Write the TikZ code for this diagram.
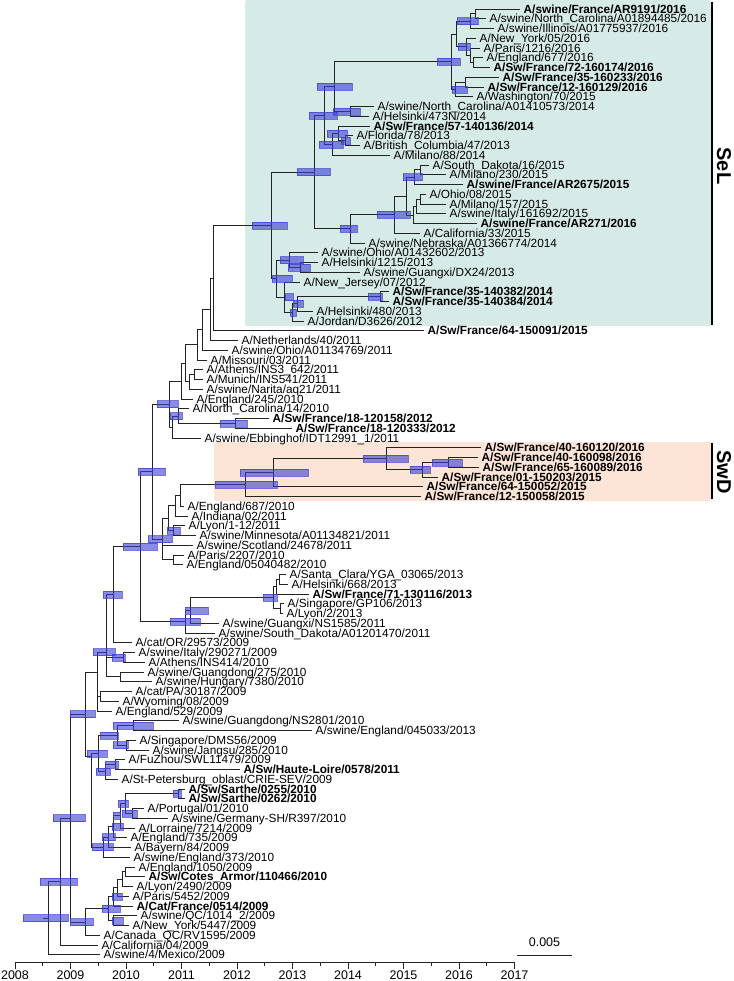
\documentclass[tikz,border=0pt]{standalone}
\usepackage{fontspec}
\setmainfont{Liberation Sans}
\definecolor{selteal}{RGB}{214,234,232}
\definecolor{swdpeach}{RGB}{252,228,214}
\definecolor{hpdblue}{RGB}{60,62,210}
\definecolor{branchgray}{RGB}{35,35,35}

\begin{document}
\begin{tikzpicture}[x=1pt,y=-1pt,
  leaf/.style={anchor=west,inner xsep=3.5pt,inner ysep=0pt,text height=8.4pt,text depth=0pt,font=\fontsize{11.8}{12}\selectfont},
  br/.style={draw=branchgray,line width=0.9pt},
  hpd/.style={fill=hpdblue,fill opacity=0.6,draw=hpdblue,draw opacity=0.7,line width=0.5pt},
  axisline/.style={draw=branchgray,line width=0.8pt},
  yr/.style={font=\fontsize{12.5}{13}\selectfont,inner sep=0pt},
  cladelab/.style={font=\fontsize{20}{20}\bfseries,rotate=-90,inner sep=0pt},
  cladebar/.style={line width=2.4pt}]
\useasboundingbox (0,0) rectangle (733,981);

% clade boxes
\fill[selteal,rounded corners=2pt] (245,0) rectangle (711,326);
\fill[swdpeach,rounded corners=2pt] (214,442) rectangle (711,501);
\draw[cladebar] (712,2) -- (712,325);
\draw[cladebar] (712,443) -- (712,499);
\node[cladelab] (sellab) at (724,166) {SeL};
\node[cladelab] (swdlab) at (724,472) {SwD};

% tips: SeL
\node[leaf] (t1) at (520,9) {\bfseries A/swine/France/AR9191/2016};
\node[leaf] (t2) at (486,18.75) {A/swine/North\_Carolina/A01894485/2016};
\node[leaf] (t3) at (494,28.5) {A/swine/Illinois/A01775937/2016};
\node[leaf] (t4) at (476,38.25) {A/New\_York/05/2016};
\node[leaf] (t5) at (480,48) {A/Paris/1216/2016};
\node[leaf] (t6) at (483,57.75) {A/England/677/2016};
\node[leaf] (t7) at (490,67.5) {\bfseries A/Sw/France/72-160174/2016};
\node[leaf] (t8) at (499,77.25) {\bfseries A/Sw/France/35-160233/2016};
\node[leaf] (t9) at (484,87) {\bfseries A/Sw/France/12-160129/2016};
\node[leaf] (t10) at (473,96.75) {A/Washington/70/2015};
\node[leaf] (t11) at (374,106.5) {A/swine/North\_Carolina/A01410573/2014};
\node[leaf] (t12) at (369,116.25) {A/Helsinki/473N/2014};
\node[leaf] (t13) at (370,126) {\bfseries A/Sw/France/57-140136/2014};
\node[leaf] (t14) at (353,135.75) {A/Florida/78/2013};
\node[leaf] (t15) at (360,145.5) {A/British\_Columbia/47/2013};
\node[leaf] (t16) at (390,155.25) {A/Milano/88/2014};
\node[leaf] (t17) at (429,165) {A/South\_Dakota/16/2015};
\node[leaf] (t18) at (446,174.75) {A/Milano/230/2015};
\node[leaf] (t19) at (463,184.5) {\bfseries A/swine/France/AR2675/2015};
\node[leaf] (t20) at (426,194.25) {A/Ohio/08/2015};
\node[leaf] (t21) at (446,204) {A/Milano/157/2015};
\node[leaf] (t22) at (446,213.75) {A/swine/Italy/161692/2015};
\node[leaf] (t23) at (477,223.5) {\bfseries A/swine/France/AR271/2016};
\node[leaf] (t24) at (420,233.25) {A/California/33/2015};
\node[leaf] (t25) at (365,243) {A/swine/Nebraska/A01366774/2014};
\node[leaf] (t26) at (318,252.75) {A/swine/Ohio/A01432602/2013};
\node[leaf] (t27) at (318,262.5) {A/Helsinki/1215/2013};
\node[leaf] (t28) at (360,272.25) {A/swine/Guangxi/DX24/2013};
\node[leaf] (t29) at (300,282) {A/New\_Jersey/07/2012};
\node[leaf] (t30) at (389,291.75) {\bfseries A/Sw/France/35-140382/2014};
\node[leaf] (t31) at (389,301.5) {\bfseries A/Sw/France/35-140384/2014};
\node[leaf] (t32) at (313,311.25) {A/Helsinki/480/2013};
\node[leaf] (t33) at (304,321) {A/Jordan/D3626/2012};
% tips: 2011-2012 backbone
\node[leaf] (t34) at (424,330.75) {\bfseries A/Sw/France/64-150091/2015};
\node[leaf] (t35) at (238,340.5) {A/Netherlands/40/2011};
\node[leaf] (t36) at (228,350.25) {A/swine/Ohio/A01134769/2011};
\node[leaf] (t37) at (207,360) {A/Missouri/03/2011};
\node[leaf] (t38) at (203,369.75) {A/Athens/INS3\_642/2011};
\node[leaf] (t39) at (203,379.5) {A/Munich/INS541/2011};
\node[leaf] (t40) at (203,389.25) {A/swine/Narita/aq21/2011};
\node[leaf] (t41) at (193,399) {A/England/245/2010};
\node[leaf] (t42) at (189,408.75) {A/North\_Carolina/14/2010};
\node[leaf] (t43) at (269,418.5) {\bfseries A/Sw/France/18-120158/2012};
\node[leaf] (t44) at (292,428.25) {\bfseries A/Sw/France/18-120333/2012};
\node[leaf] (t45) at (201,438) {A/swine/Ebbinghof/IDT12991\_1/2011};
% tips: SwD
\node[leaf] (t46) at (481,447.75) {\bfseries A/Sw/France/40-160120/2016};
\node[leaf] (t47) at (478,457.5) {\bfseries A/Sw/France/40-160098/2016};
\node[leaf] (t48) at (479,467.25) {\bfseries A/Sw/France/65-160089/2016};
\node[leaf] (t49) at (438,477) {\bfseries A/Sw/France/01-150203/2015};
\node[leaf] (t50) at (423,486.75) {\bfseries A/Sw/France/64-150052/2015};
\node[leaf] (t51) at (421,496.5) {\bfseries A/Sw/France/12-150058/2015};
\node[leaf] (t52) at (184,506.25) {A/England/687/2010};
\node[leaf] (t53) at (188,516) {A/Indiana/02/2011};
\node[leaf] (t54) at (185,525.75) {A/Lyon/1-12/2011};
\node[leaf] (t55) at (196,535.5) {A/swine/Minnesota/A01134821/2011};
\node[leaf] (t56) at (193,545.25) {A/swine/Scotland/24678/2011};
\node[leaf] (t57) at (184,555) {A/Paris/2207/2010};
\node[leaf] (t58) at (183,564.75) {A/England/05040482/2010};
\node[leaf] (t59) at (286,574.5) {A/Santa\_Clara/YGA\_03065/2013};
\node[leaf] (t60) at (288,584.25) {A/Helsinki/668/2013};
\node[leaf] (t61) at (309,594) {\bfseries A/Sw/France/71-130116/2013};
\node[leaf] (t62) at (284,603.75) {A/Singapore/GP106/2013};
\node[leaf] (t63) at (283,613.5) {A/Lyon/2/2013};
\node[leaf] (t64) at (219,623.25) {A/swine/Guangxi/NS1585/2011};
\node[leaf] (t65) at (215,633) {A/swine/South\_Dakota/A01201470/2011};
% tips: 2009-2010
\node[leaf] (t66) at (132,642.75) {A/cat/OR/29573/2009};
\node[leaf] (t67) at (135,652.5) {A/swine/Italy/290271/2009};
\node[leaf] (t68) at (145,662.25) {A/Athens/INS414/2010};
\node[leaf] (t69) at (144,672) {A/swine/Guangdong/275/2010};
\node[leaf] (t70) at (152,681.75) {A/swine/Hungary/7380/2010};
\node[leaf] (t71) at (132,691.5) {A/cat/PA/30187/2009};
\node[leaf] (t72) at (119,701.25) {A/Wyoming/08/2009};
\node[leaf] (t73) at (112,711) {A/England/529/2009};
\node[leaf] (t74) at (179,720.75) {A/swine/Guangdong/NS2801/2010};
\node[leaf] (t75) at (312,730.5) {A/swine/England/045033/2013};
\node[leaf] (t76) at (136,740.25) {A/Singapore/DMS56/2009};
\node[leaf] (t77) at (149,750) {A/swine/Jangsu/285/2010};
\node[leaf] (t78) at (125,759.75) {A/FuZhou/SWL11479/2009};
\node[leaf] (t79) at (240,769.5) {\bfseries A/Sw/Haute-Loire/0578/2011};
\node[leaf] (t80) at (118,779.25) {A/St-Petersburg\_oblast/CRIE-SEV/2009};
\node[leaf] (t81) at (185,789) {\bfseries A/Sw/Sarthe/0255/2010};
\node[leaf] (t82) at (185,798.75) {\bfseries A/Sw/Sarthe/0262/2010};
\node[leaf] (t83) at (144,808.5) {A/Portugal/01/2010};
\node[leaf] (t84) at (168,818.25) {A/swine/Germany-SH/R397/2010};
\node[leaf] (t85) at (135,828) {A/Lorraine/7214/2009};
\node[leaf] (t86) at (127,837.75) {A/England/735/2009};
\node[leaf] (t87) at (131,847.5) {A/Bayern/84/2009};
\node[leaf] (t88) at (130,857.25) {A/swine/England/373/2010};
\node[leaf] (t89) at (135,867) {A/England/1050/2009};
\node[leaf] (t90) at (145,876.75) {\bfseries A/Sw/Cotes\_Armor/110466/2010};
\node[leaf] (t91) at (133,886.5) {A/Lyon/2490/2009};
\node[leaf] (t92) at (129,896.25) {A/Paris/5452/2009};
\node[leaf] (t93) at (133,906) {\bfseries A/Cat/France/0514/2009};
\node[leaf] (t94) at (137,915.75) {A/swine/QC/1014\_2/2009};
\node[leaf] (t95) at (129,925.5) {A/New\_York/5447/2009};
\node[leaf] (t96) at (100,935.25) {A/Canada\_QC/RV1595/2009};
\node[leaf] (t97) at (98,945) {A/California/04/2009};
\node[leaf] (t98) at (100,954.75) {A/swine/4/Mexico/2009};

% internal nodes
\coordinate (na) at (475,13.9);
\coordinate (nb) at (470,21.2);
\coordinate (nd) at (473,62.6);
\coordinate (ne) at (470,55.3);
\coordinate (nf) at (466,46.8);
\coordinate (nj) at (456,34);
\coordinate (ng) at (465,82.1);
\coordinate (nh) at (455,89.4);
\coordinate (ni) at (451,61.7);
\coordinate (s4) at (350,111.4);
\coordinate (s3) at (334,86.5);
\coordinate (s7) at (345,140.6);
\coordinate (s6) at (338,133.3);
\coordinate (s5) at (332,144.3);
\coordinate (s2) at (324,115.4);
\coordinate (sq) at (420,169.9);
\coordinate (sr) at (414,177.2);
\coordinate (ss) at (420,199.1);
\coordinate (st) at (416,206.4);
\coordinate (su) at (413,215);
\coordinate (sv) at (406,196.1);
\coordinate (sn) at (394,214.7);
\coordinate (sm) at (350,228.8);
\coordinate (s1) at (314,172.1);
\coordinate (k3) at (300,267.4);
\coordinate (k2) at (289,260.1);
\coordinate (k7) at (380,296.6);
\coordinate (k6) at (297,303.9);
\coordinate (k5) at (292,312.5);
\coordinate (k8) at (284,297.2);
\coordinate (k1) at (276,278.7);
\coordinate (sel) at (271,225.4);
\coordinate (p1) at (213,278.1);
\coordinate (p2) at (210,309.3);
\coordinate (p3) at (202,329.8);
\coordinate (p4) at (197,344.9);
\coordinate (p7) at (194,374.6);
\coordinate (p6) at (189,381.9);
\coordinate (px) at (185,363.4);
\coordinate (p8) at (181,381.2);
\coordinate (f18) at (235,423.4);
\coordinate (p11) at (178,416.1);
\coordinate (p13) at (172,427);
\coordinate (p12) at (169,404.1);
\coordinate (y1) at (448,462.4);
\coordinate (y2) at (422,469.7);
\coordinate (y3) at (386,458.7);
\coordinate (y4) at (273,472.7);
\coordinate (y5) at (245,484.6);
\coordinate (z) at (180,495.4);
\coordinate (z2) at (175,505.7);
\coordinate (w1) at (173,530.6);
\coordinate (z3) at (168,518.2);
\coordinate (w2) at (173,559.9);
\coordinate (z4) at (162,539);
\coordinate (q) at (152,471.6);
\coordinate (v2) at (279,579.4);
\coordinate (v3) at (276,586.7);
\coordinate (v4) at (280,608.6);
\coordinate (v) at (273,597.7);
\coordinate (g1) at (190,610.5);
\coordinate (g) at (185,621.7);
\coordinate (r) at (140,546.7);
\coordinate (u) at (113,594.7);
\coordinate (a1) at (123,657.4);
\coordinate (a2) at (120,676.9);
\coordinate (a3) at (106,652);
\coordinate (a7) at (100,696.4);
\coordinate (a9) at (97,672);
\coordinate (b1) at (133,725.6);
\coordinate (b2) at (126,745.1);
\coordinate (b3) at (117,735.4);
\coordinate (b6) at (115,764.6);
\coordinate (b5) at (105,771.9);
\coordinate (b4) at (98,753.7);
\coordinate (c1) at (178,793.9);
\coordinate (c2) at (132,813.4);
\coordinate (c3) at (125,803.6);
\coordinate (c4) at (120,815.8);
\coordinate (c5) at (113,826.8);
\coordinate (c6) at (108,837.1);
\coordinate (c7) at (103,847.2);
\coordinate (f) at (91,756);
\coordinate (e) at (85,714);
\coordinate (m2) at (125,871.9);
\coordinate (m3) at (122,879.2);
\coordinate (m4) at (117,887.7);
\coordinate (m5) at (113,896.9);
\coordinate (m6) at (113,920.6);
\coordinate (m7) at (108,908.8);
\coordinate (h) at (85,922);
\coordinate (d) at (70,818);
\coordinate (ii) at (60,881.5);
\coordinate (jj) at (48,918.1);
\coordinate (root) at (43,918.1);

% branches
\draw[br] (na) |- (t1) (na) |- (t2) (nb) |- (na) (nb) |- (t3);
\draw[br] (nd) |- (t6) (nd) |- (t7) (ne) |- (t5) (ne) |- (nd) (nf) |- (t4) (nf) |- (ne);
\draw[br] (nj) |- (nb) (nj) |- (nf) (ng) |- (t8) (ng) |- (t9) (nh) |- (ng) (nh) |- (t10);
\draw[br] (ni) |- (nj) (ni) |- (nh) (s4) |- (t11) (s4) |- (t12) (s3) |- (ni) (s3) |- (s4);
\draw[br] (s7) |- (t14) (s7) |- (t15) (s6) |- (t13) (s6) |- (s7) (s5) |- (s6) (s5) |- (t16);
\draw[br] (s2) |- (s3) (s2) |- (s5);
\draw[br] (sq) |- (t17) (sq) |- (t18) (sr) |- (sq) (sr) |- (t19);
\draw[br] (ss) |- (t20) (ss) |- (t21) (st) |- (ss) (st) |- (t22) (su) |- (st) (su) |- (t23);
\draw[br] (sv) |- (sr) (sv) |- (su) (sn) |- (sv) (sn) |- (t24) (sm) |- (sn) (sm) |- (t25);
\draw[br] (s1) |- (s2) (s1) |- (sm);
\draw[br] (k3) |- (t27) (k3) |- (t28) (k2) |- (t26) (k2) |- (k3);
\draw[br] (k7) |- (t30) (k7) |- (t31) (k6) |- (k7) (k6) |- (t32) (k5) |- (k6) (k5) |- (t33);
\draw[br] (k8) |- (t29) (k8) |- (k5) (k1) |- (k2) (k1) |- (k8) (sel) |- (s1) (sel) |- (k1);
\draw[br] (p1) |- (sel) (p1) |- (t34) (p2) |- (p1) (p2) |- (t35) (p3) |- (p2) (p3) |- (t36);
\draw[br] (p4) |- (p3) (p4) |- (t37) (p7) |- (t38) (p7) |- (t39) (p6) |- (p7) (p6) |- (t40);
\draw[br] (px) |- (p4) (px) |- (p6) (p8) |- (px) (p8) |- (t41);
\draw[br] (f18) |- (t43) (f18) |- (t44) (p11) |- (t42) (p11) |- (f18) (p13) |- (p11) (p13) |- (t45);
\draw[br] (p12) |- (p8) (p12) |- (p13);
\draw[br] (y1) |- (t47) (y1) |- (t48) (y2) |- (y1) (y2) |- (t49) (y3) |- (t46) (y3) |- (y2);
\draw[br] (y4) |- (y3) (y4) |- (t50) (y5) |- (y4) (y5) |- (t51) (z) |- (y5) (z) |- (t52);
\draw[br] (z2) |- (z) (z2) |- (t53) (w1) |- (t54) (w1) |- (t55) (z3) |- (z2) (z3) |- (w1);
\draw[br] (w2) |- (t57) (w2) |- (t58) (z4) |- (z3) (z4) |- (t56) (z4) |- (w2) (q) |- (p12) (q) |- (z4);
\draw[br] (v2) |- (t59) (v2) |- (t60) (v3) |- (v2) (v3) |- (t61) (v4) |- (t62) (v4) |- (t63);
\draw[br] (v) |- (v3) (v) |- (v4) (g1) |- (v) (g1) |- (t64) (g) |- (g1) (g) |- (t65);
\draw[br] (r) |- (q) (r) |- (g) (u) |- (r) (u) |- (t66);
\draw[br] (a1) |- (t67) (a1) |- (t68) (a2) |- (t69) (a2) |- (t70) (a3) |- (u) (a3) |- (a1) (a3) |- (a2);
\draw[br] (a7) |- (t71) (a7) |- (t72) (a9) |- (a3) (a9) |- (a7) (a9) |- (t73);
\draw[br] (b1) |- (t74) (b1) |- (t75) (b2) |- (t76) (b2) |- (t77) (b3) |- (b1) (b3) |- (b2);
\draw[br] (b6) |- (t78) (b6) |- (t79) (b5) |- (b6) (b5) |- (t80) (b4) |- (b3) (b4) |- (b5);
\draw[br] (c1) |- (t81) (c1) |- (t82) (c2) |- (t83) (c2) |- (t84) (c3) |- (c1) (c3) |- (c2);
\draw[br] (c4) |- (c3) (c4) |- (t85) (c5) |- (c4) (c5) |- (t86) (c6) |- (c5) (c6) |- (t87);
\draw[br] (c7) |- (c6) (c7) |- (t88) (f) |- (b4) (f) |- (c7) (e) |- (a9) (e) |- (f);
\draw[br] (m2) |- (t89) (m2) |- (t90) (m3) |- (m2) (m3) |- (t91) (m4) |- (m3) (m4) |- (t92);
\draw[br] (m5) |- (m4) (m5) |- (t93) (m6) |- (t94) (m6) |- (t95) (m7) |- (m5) (m7) |- (m6);
\draw[br] (h) |- (m7) (h) |- (t96) (d) |- (e) (d) |- (h);
\draw[br] (ii) |- (d) (ii) |- (t97) (jj) |- (ii) (jj) |- (t98) (root) -- (jj);

% node age bars
\draw[hpd] (457,17.7) rectangle (478,24.7);
\draw[hpd] (458,43.3) rectangle (470,50.3);
\draw[hpd] (437,58.2) rectangle (460,65.2);
\draw[hpd] (452,85.9) rectangle (467,92.9);
\draw[hpd] (333,107.9) rectangle (360,114.9);
\draw[hpd] (317,83) rectangle (352,90);
\draw[hpd] (309,111.9) rectangle (337,118.9);
\draw[hpd] (327,129.8) rectangle (347,136.8);
\draw[hpd] (341,137.1) rectangle (350,144.1);
\draw[hpd] (319,140.8) rectangle (343,147.8);
\draw[hpd] (297,168.6) rectangle (330,175.6);
\draw[hpd] (403,173.7) rectangle (422,180.7);
\draw[hpd] (377,211.2) rectangle (410,218.2);
\draw[hpd] (340,225.3) rectangle (357,232.3);
\draw[hpd] (252,221.9) rectangle (287,228.9);
\draw[hpd] (272,275.2) rectangle (292,282.2);
\draw[hpd] (280,256.6) rectangle (303,263.6);
\draw[hpd] (288,263.9) rectangle (310,270.9);
\draw[hpd] (285,293.7) rectangle (293,300.7);
\draw[hpd] (293,300.4) rectangle (303,307.4);
\draw[hpd] (290,309) rectangle (296,316);
\draw[hpd] (368,293.1) rectangle (382,300.1);
\draw[hpd] (157,400.6) rectangle (178,407.6);
\draw[hpd] (170,412.6) rectangle (182,419.6);
\draw[hpd] (220,419.9) rectangle (247,426.9);
\draw[hpd] (138,468.1) rectangle (165,475.1);
\draw[hpd] (215,481.1) rectangle (277,488.1);
\draw[hpd] (240,469.2) rectangle (308,476.2);
\draw[hpd] (363,455.2) rectangle (408,462.2);
\draw[hpd] (432,458.9) rectangle (462,465.9);
\draw[hpd] (410,466.2) rectangle (430,473.2);
\draw[hpd] (167,527.1) rectangle (180,534.1);
\draw[hpd] (148,535.5) rectangle (172,542.5);
\draw[hpd] (123,543.2) rectangle (157,550.2);
\draw[hpd] (263,594.2) rectangle (277,601.2);
\draw[hpd] (185,607) rectangle (208,614);
\draw[hpd] (170,618.2) rectangle (200,625.2);
\draw[hpd] (103,591.2) rectangle (122,598.2);
\draw[hpd] (93,648.5) rectangle (115,655.5);
\draw[hpd] (112,653.9) rectangle (125,660.9);
\draw[hpd] (70,710.5) rectangle (95,717.5);
\draw[hpd] (113,722.1) rectangle (153,729.1);
\draw[hpd] (100,731.9) rectangle (118,738.9);
\draw[hpd] (113,741.6) rectangle (128,748.6);
\draw[hpd] (87,750.2) rectangle (107,757.2);
\draw[hpd] (105,761.1) rectangle (118,768.1);
\draw[hpd] (96,768.4) rectangle (110,775.4);
\draw[hpd] (173,790.4) rectangle (181,797.4);
\draw[hpd] (122,809.9) rectangle (137,816.9);
\draw[hpd] (118,800.1) rectangle (128,807.1);
\draw[hpd] (113,812.3) rectangle (120,819.3);
\draw[hpd] (112,823.3) rectangle (123,830.3);
\draw[hpd] (102,833.6) rectangle (115,840.6);
\draw[hpd] (92,843.7) rectangle (113,850.7);
\draw[hpd] (53,814.5) rectangle (85,821.5);
\draw[hpd] (40,878) rectangle (77,885);
\draw[hpd] (23,914.6) rectangle (68,921.6);
\draw[hpd] (70,918.5) rectangle (93,925.5);
\draw[hpd] (102,905.3) rectangle (120,912.3);
\draw[hpd] (112,893.4) rectangle (122,900.4);
\draw[hpd] (112,917.1) rectangle (123,924.1);

% time axis
\draw[axisline] (15,962) -- (514.5,962);
\draw[axisline] (15,962) -- (15,969) (70.5,962) -- (70.5,969) (126,962) -- (126,969)
  (181.5,962) -- (181.5,969) (237,962) -- (237,969) (292.5,962) -- (292.5,969)
  (348,962) -- (348,969) (403.5,962) -- (403.5,969) (459,962) -- (459,969) (514.5,962) -- (514.5,969);
\draw[axisline] (42.75,962) -- (42.75,965.5) (98.25,962) -- (98.25,965.5) (153.75,962) -- (153.75,965.5)
  (209.25,962) -- (209.25,965.5) (264.75,962) -- (264.75,965.5) (320.25,962) -- (320.25,965.5)
  (375.75,962) -- (375.75,965.5) (431.25,962) -- (431.25,965.5) (486.75,962) -- (486.75,965.5);
\node[yr] (y08) at (15,975) {2008};
\node[yr] (y09) at (70.5,975) {2009};
\node[yr] (y10) at (126,975) {2010};
\node[yr] (y11) at (181.5,975) {2011};
\node[yr] (y12) at (237,975) {2012};
\node[yr] (y13) at (292.5,975) {2013};
\node[yr] (y14) at (348,975) {2014};
\node[yr] (y15) at (403.5,975) {2015};
\node[yr] (y16) at (459,975) {2016};
\node[yr] (y17) at (514.5,975) {2017};

% scale bar
\draw[axisline] (517,955) -- (572,955);
\node[yr] (scale) at (544.5,942) {0.005};
\end{tikzpicture}
\end{document}
